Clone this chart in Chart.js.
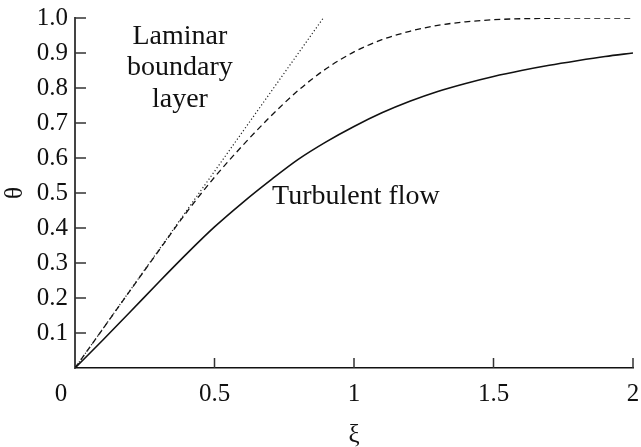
<!DOCTYPE html>
<html>
<head>
<meta charset="utf-8">
<script src="https://cdn.jsdelivr.net/npm/chart.js@4"></script>
<style>
  html, body { margin: 0; padding: 0; background: #fff; }
  #wrap { width: 641px; height: 447px; }
</style>
</head>
<body>
<div id="wrap"><canvas id="myChart" width="641" height="447"></canvas></div>
<script>
const xiValues = [0, 0.1, 0.2, 0.3, 0.4, 0.5, 0.6, 0.7, 0.8, 0.9, 1.0, 1.1, 1.2, 1.3, 1.4, 1.5, 1.6, 1.7, 1.8, 1.9, 2.0];
const laminarTheta = [0, 0.112, 0.224, 0.335, 0.445, 0.545, 0.635, 0.718, 0.793, 0.855, 0.903, 0.938, 0.962, 0.979, 0.989, 0.995, 0.998, 0.999, 1.0, 1.0, 1.0];
const turbulentTheta = [0, 0.08, 0.162, 0.245, 0.326, 0.403, 0.472, 0.536, 0.596, 0.646, 0.69, 0.729, 0.762, 0.79, 0.813, 0.833, 0.85, 0.865, 0.878, 0.89, 0.9];
const limitXi = [0, 0.89];
const limitTheta = [0, 1.0];
const xTicks = [0, 0.5, 1, 1.5, 2];
const yTicks = [0.1, 0.2, 0.3, 0.4, 0.5, 0.6, 0.7, 0.8, 0.9, 1.0];

const serif = '"Liberation Serif", "Times New Roman", serif';
const canvas = document.getElementById('myChart');

function toPoints(xs, ys) {
  return xs.map((x, i) => ({ x: x, y: ys[i] }));
}

// tick marks pointing into the plot, the shifted "0" and the curve labels
const annotations = {
  id: 'annotations',
  afterDraw(chart) {
    const ctx = chart.ctx;
    const xs = chart.scales.x;
    const ys = chart.scales.y;
    const area = chart.chartArea;
    ctx.save();
    ctx.fillStyle = '#333';
    yTicks.forEach((v) => {
      const py = ys.getPixelForValue(v);
      ctx.fillRect(area.left, py - 0.75, 11, 1.5);
    });
    xTicks.slice(1).forEach((v) => {
      const px = xs.getPixelForValue(v);
      ctx.fillRect(px - 0.75, area.bottom - 10, 1.5, 10);
    });

    ctx.fillStyle = '#111';
    ctx.font = '25px ' + serif;
    ctx.textAlign = 'center';
    ctx.textBaseline = 'middle';
    ctx.fillText('0', xs.getPixelForValue(0) - 14, area.bottom + 26);

    ctx.font = '28px ' + serif;
    const lx = xs.getPixelForValue(0.376);
    ctx.fillText('Laminar', lx, ys.getPixelForValue(0.946));
    ctx.fillText('boundary', lx, ys.getPixelForValue(0.857));
    ctx.fillText('layer', lx, ys.getPixelForValue(0.766));
    ctx.fillText('Turbulent flow', xs.getPixelForValue(1.007), ys.getPixelForValue(0.489));
    ctx.restore();
  },
};

const myChart = new Chart(canvas, {
  type: 'scatter',
  data: {
    datasets: [
      {
        label: 'limit',
        data: toPoints(limitXi, limitTheta),
        showLine: true,
        borderColor: '#222',
        borderWidth: 1.2,
        borderDash: [1.2, 2.3],
        pointRadius: 0,
      },
      {
        label: 'Laminar boundary layer',
        data: toPoints(xiValues, laminarTheta),
        showLine: true,
        borderColor: '#111',
        borderWidth: 1.3,
        borderDash: [6, 4],
        cubicInterpolationMode: 'monotone',
        pointRadius: 0,
      },
      {
        label: 'Turbulent flow',
        data: toPoints(xiValues, turbulentTheta),
        showLine: true,
        borderColor: '#111',
        borderWidth: 1.6,
        cubicInterpolationMode: 'monotone',
        pointRadius: 0,
      },
    ],
  },
  options: {
    responsive: false,
    animation: false,
    layout: { padding: { top: 18, right: 8, left: 0, bottom: 0 } },
    plugins: {
      legend: { display: false },
      tooltip: { enabled: false },
    },
    scales: {
      x: {
        type: 'linear',
        min: 0,
        max: 2,
        afterBuildTicks: (scale) => {
          scale.ticks = xTicks.map((v) => ({ value: v }));
        },
        afterFit: (scale) => {
          scale.height = 79;
          scale.paddingLeft = 0;
          scale.paddingRight = 0;
        },
        ticks: {
          color: '#111',
          font: { family: serif, size: 25 },
          padding: 11,
          maxRotation: 0,
          callback: (v) => (v === 0 ? '' : String(v)),
        },
        grid: { display: false, drawTicks: false },
        border: { display: true, color: '#111', width: 1.5 },
        title: {
          display: true,
          text: 'ξ',
          color: '#111',
          font: { family: serif, size: 25 },
          padding: { top: 0, bottom: -3 },
        },
      },
      y: {
        type: 'linear',
        min: 0,
        max: 1,
        afterBuildTicks: (scale) => {
          scale.ticks = yTicks.map((v) => ({ value: v }));
        },
        afterFit: (scale) => {
          scale.width = 75;
          scale.paddingTop = 0;
          scale.paddingBottom = 0;
        },
        ticks: {
          color: '#111',
          font: { family: serif, size: 25 },
          padding: 7,
          callback: (v) => v.toFixed(1),
        },
        grid: { display: false, drawTicks: false },
        border: { display: true, color: '#444', width: 2 },
        title: {
          display: true,
          text: 'θ',
          color: '#111',
          font: { family: serif, size: 25 },
          padding: { top: 0, bottom: 0 },
        },
      },
    },
  },
  plugins: [annotations],
});
</script>
</body>
</html>
